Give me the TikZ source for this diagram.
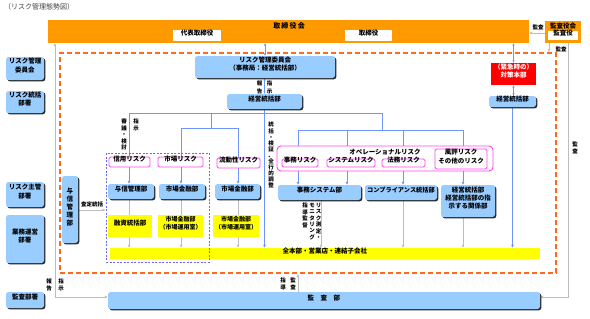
\documentclass[tikz,border=0pt]{standalone}
\usepackage{fontspec}
\setmainfont{Noto Sans CJK JP}
\usetikzlibrary{fit,shadows,arrows.meta,backgrounds}
\definecolor{orng}{HTML}{FF9900}
\definecolor{dorng}{HTML}{FF6A1A}
\definecolor{lb}{HTML}{99CCFF}
\definecolor{mag}{HTML}{FF44EE}
\definecolor{yel}{HTML}{FFFF00}
\definecolor{bl}{HTML}{7094FF}
\definecolor{pb}{HTML}{6A6AF0}
\definecolor{gr}{HTML}{BDBDBD}
\definecolor{redb}{HTML}{FF0000}
\newcommand\bx[7]{\node[#1,fit={(#3,#4)(#5,#6)}] (#2) {#7};}
\begin{document}
\begin{tikzpicture}[x=1pt,y=-1pt,
  font=\fontsize{6.5}{8.5}\selectfont\bfseries,
  every node/.style={inner sep=0pt, align=center},
  lbox/.style={fill=lb, rounded corners=2.5pt, drop shadow={shadow xshift=1.3pt,shadow yshift=-1.3pt,opacity=1,fill=black!85}},
  wbox/.style={fill=white},
  mbox/.style={draw=mag, fill=white, line width=0.9pt, rounded corners=1.5pt},
  ybox/.style={fill=yel},
  garr/.style={draw=gr, line width=0.9pt, -{Latex[length=3pt,width=3pt]}},
  gline/.style={draw=gr, line width=0.9pt},
  gdbl/.style={draw=gr, line width=0.9pt, {Latex[length=3pt,width=3pt]}-{Latex[length=3pt,width=3pt]}},
  barr/.style={draw=bl, line width=0.9pt, -{Latex[length=3pt,width=3pt]}},
  bline/.style={draw=bl, line width=0.9pt},
  bdbl/.style={draw=bl, line width=0.8pt, {Latex[length=2.5pt,width=2.5pt]}-{Latex[length=2.5pt,width=2.5pt]}},
  vtxt/.style={font=\fontsize{5.5}{6.4}\selectfont\bfseries},
]
\useasboundingbox (0,0) rectangle (590,319);

\node[anchor=west, font=\fontsize{7}{8}\selectfont, text=black!75] (title) at (4,7) {（リスク管理態勢図）};

% board
\bx{fill=orng}{board}{48}{20}{529}{43}{}
\node[font=\fontsize{7}{8}\selectfont\bfseries] (boardt) at (289,26) {取\,締\,役\,会};
\bx{wbox}{daihyo}{173}{30}{221}{41}{代表取締役}
\bx{wbox}{tori}{345}{30}{392}{41}{取締役}
\bx{fill=orng}{kyk}{545}{21}{581}{43}{}
\node (kykt) at (563,26) {監査役会};
\bx{wbox}{kyaku}{548}{31}{578}{40}{監査役}

% orange dashed frame
\bx{draw=dorng, line width=1.5pt, dash pattern=on 5pt off 3pt}{dash}{60}{53}{556}{273}{}

% left column
\bx{lbox}{L1}{6}{57}{44}{80}{リスク管理\\委員会}
\bx{lbox}{L2}{6}{91}{44}{113}{リスク統括\\部署}
\bx{lbox}{L3}{6}{182}{44}{207}{リスク主管\\部署}
\bx{lbox}{L4}{6}{215}{44}{263}{業務運営\\部署}
\bx{lbox}{L5}{6}{292}{44}{308}{監査部署}

% main
\bx{lbox}{committee}{195}{56}{335}{78}{リスク管理委員会\\（事務局：経営統括部）}
\bx{lbox}{keiei}{227}{94}{302}{109}{経営統括部}

\bx{mbox}{shin}{109}{157}{150}{167}{信用リスク}
\bx{mbox}{shijo}{158}{157}{203}{167}{市場リスク}
\bx{mbox}{ryudo}{217}{158}{260}{168}{流動性リスク}

\bx{lbox}{yoshinb}{108}{184}{154}{199}{与信管理部}
\bx{lbox}{shijokin1}{159}{184}{205}{199}{市場金融部}
\bx{lbox}{shijokin2}{215}{184}{260}{199}{市場金融部}

\bx{ybox}{yushi}{108}{215}{152}{237}{融資統括部}
\bx{ybox,font=\fontsize{6}{8}\selectfont\bfseries}{unyo1}{158}{215}{203}{237}{市場金融部\\（市場運用室）}
\bx{ybox,font=\fontsize{6}{8}\selectfont\bfseries}{unyo2}{213}{215}{259}{237}{市場金融部\\（市場運用室）}

\bx{ybox}{zenbar}{110}{248}{540}{259}{全本部・営業店・連結子会社}
\bx{draw=pb, line width=0.9pt, dash pattern=on 2pt off 1.5pt}{credgrp}{106}{153}{209}{262}{}

\bx{lbox, font=\fontsize{6.5}{8}\selectfont\bfseries}{yoshinv}{62}{176}{78}{243}{与\\信\\管\\理\\部}

\bx{mbox,rounded corners=4pt}{ops}{277}{146}{493}{171}{}
\node (opst) at (385,152) {オペレーショナルリスク};
\bx{mbox}{jimu}{282}{159}{318}{167}{事務リスク}
\bx{mbox}{sys}{327}{159}{375}{167}{システムリスク}
\bx{mbox}{homu}{382}{159}{425}{167}{法務リスク}
\bx{mbox, font=\fontsize{6.5}{9}\selectfont\bfseries}{fuhyo}{435}{149}{487}{169}{風評リスク\\その他のリスク}

\bx{lbox}{jimusys}{278}{185}{361}{200}{事務システム部}
\bx{lbox, font=\fontsize{6.2}{8}\selectfont\bfseries}{comp}{365}{185}{437}{200}{コンプライアンス統括部}
\bx{lbox, font=\fontsize{6.5}{7.8}\selectfont\bfseries}{kankei}{441}{185}{495}{217}{経営統括部\\経営統括部の指\\示する関係部}

\bx{fill=redb, text=white}{red}{491}{63}{536}{85}{（緊急時の）\\対策本部}
\bx{lbox}{ekeiei}{489}{96}{536}{107}{経営統括部}

\bx{lbox}{kansabu}{108}{292}{540}{309}{監\quad 査\quad 部}

% labels
\node[vtxt, font=\fontsize{5.5}{8}\selectfont\bfseries] (lb1) at (259.5,87) {報\\告};
\node[vtxt, font=\fontsize{5.5}{8}\selectfont\bfseries] (lb2) at (269.5,87) {指\\示};
\node[vtxt, anchor=north] (lb3) at (124,119) {審\\議\\・\\検\\討};
\node[vtxt, anchor=north] (lb4) at (136,119) {指\\示};
\node[vtxt, font=\fontsize{5.5}{6.1}\selectfont\bfseries, anchor=north] (lb5) at (271,122) {統\\括\\・\\検\\証\\、\\全\\行\\的\\調\\整};
\node[vtxt, anchor=north] (lb6) at (305,203) {指\\導\\監\\督};
\node[vtxt, anchor=north] (lb7) at (312,203) {モ\\ニ\\タ\\リ\\ン\\グ};
\node[vtxt, anchor=north] (lb8) at (318.5,203) {リ\\ス\\ク\\測\\定\\・};
\node[vtxt, font=\fontsize{5.5}{7.5}\selectfont\bfseries] (lb9) at (283,284) {指\\導};
\node[vtxt, font=\fontsize{5.5}{7.5}\selectfont\bfseries] (lb10) at (293,284) {監\\査};
\node[vtxt, font=\fontsize{5.5}{7.5}\selectfont\bfseries] (lb11) at (49,285) {報\\告};
\node[vtxt, font=\fontsize{5.5}{7.5}\selectfont\bfseries] (lb12) at (61,285) {指\\示};
\node[vtxt] (lb13) at (538,27) {監査};
\node[vtxt] (lb14) at (561,49) {監査};
\node[vtxt, font=\fontsize{5.5}{7.5}\selectfont\bfseries] (lb15) at (575,148) {監\\査};
\node[vtxt] (lb16) at (92,204.5) {査定統括};

% coordinates
\coordinate (t1) at (129,113);
\coordinate (t2) at (382,113);
\coordinate (t3) at (211,113);
\coordinate (t4) at (181,128);
\coordinate (t5) at (238,128);
\coordinate (o0) at (382,130);
\coordinate (o1) at (298,130);
\coordinate (o2) at (347,130);
\coordinate (o3) at (403,130);
\coordinate (o4) at (463,130);
\coordinate (g1) at (321,200);
\coordinate (sa) at (80,210);
\coordinate (k1) at (298,280);
\coordinate (lc) at (55,297);
\coordinate (rc) at (568,297);
\coordinate (kc) at (549,52);
\coordinate (kb) at (540,33);

\begin{pgfonlayer}{background}
\draw[bdbl] (board.south -| committee.north) -- (committee.north);
\draw[bdbl] (committee.south -| keiei.north) -- (keiei.north);
\draw[bdbl] (board.south -| red.north) -- (red.north);
\draw[bdbl] (red.south) -- (red.south |- ekeiei.north);

\draw[barr] (keiei.south) -- (keiei.south |- zenbar.north);
\draw[bline] (t1) -- (t2);
\draw[barr] (t1) -- (t1 |- yoshinb.north);
\draw[bline] (t3) -- (t3 |- t4);
\draw[bline] (t4) -- (t5);
\draw[barr] (t4) -- (t4 |- shijokin1.north);
\draw[barr] (t5) -- (t5 |- shijokin2.north);
\draw[bline] (t2) -- (o0);
\draw[bline] (o1) -- (o4);
\draw[barr] (o1) -- (o1 |- jimusys.north);
\draw[barr] (o2) -- (o2 |- jimusys.north);
\draw[barr] (o3) -- (o3 |- comp.north);
\draw[barr] (o4) -- (o4 |- kankei.north);
\draw[barr] (ekeiei.south) -- (ekeiei.south |- zenbar.north);

\draw[gline] (t1 |- yoshinb.south) -- (t1 |- yushi.north);
\draw[garr] (t1 |- yushi.south) -- (t1 |- zenbar.north);
\draw[gline] (t4 |- shijokin1.south) -- (t4 |- unyo1.north);
\draw[garr] (t4 |- unyo1.south) -- (t4 |- zenbar.north);
\draw[gline] (t5 |- shijokin2.south) -- (t5 |- unyo2.north);
\draw[garr] (t5 |- unyo2.south) -- (t5 |- zenbar.north);
\draw[garr] (g1 |- jimusys.south) -- (g1 |- zenbar.north);
\draw[garr] (o3 |- comp.south) -- (o3 |- zenbar.north);
\draw[garr] (o4 |- kankei.south) -- (o4 |- zenbar.north);

\draw[garr] (yoshinv.east |- sa) -- (credgrp.west |- sa);
\draw[garr] (k1 |- kansabu.north) -- (k1 |- dash.south);
\draw[gdbl] (board.south -| lc) -- (lc) -- (kansabu.west |- lc);
\draw[garr] (kyk.south -| rc) -- (rc) -- (kansabu.east |- rc);
\draw[garr] (kyk.south -| kc) -- (kc |- dash.north);
\draw[garr] (kyk.west |- kb) -- (board.east |- kb);
\end{pgfonlayer}
\end{tikzpicture}
\end{document}
